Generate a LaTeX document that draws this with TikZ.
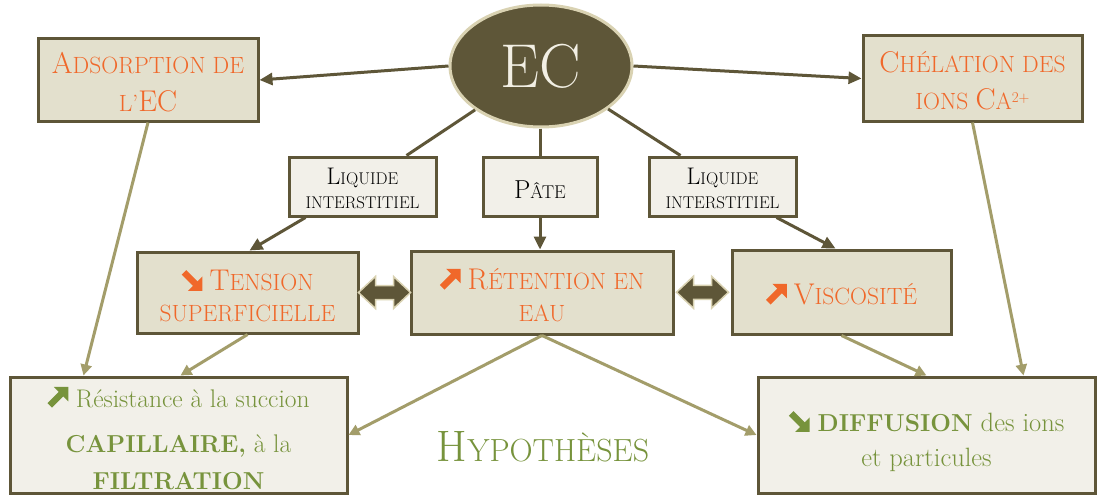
\documentclass[tikz,border=0pt]{standalone}
\usepackage{fontspec}
\usetikzlibrary{arrows.meta,calc,shapes.geometric}
\definecolor{dk}{HTML}{5E5638}
\definecolor{boxfill}{HTML}{E3E0CD}
\definecolor{lightfill}{HTML}{F2F0E9}
\definecolor{lt}{HTML}{A39D6A}
\definecolor{ecb}{HTML}{D9D2B2}
\definecolor{orng}{HTML}{F0682A}
\definecolor{grn}{HTML}{77933C}
\definecolor{ectext}{HTML}{F2EFE4}
\newsavebox\icoSEo \newsavebox\icoNEo \newsavebox\icoNEg \newsavebox\icoSEg
\newcommand\myPt[2]{\pgfpoint{#1pt}{#2pt}}
\newcommand\mkSE[1]{\begin{pgfpicture}\color{#1}%
  \pgfpathrectangle{\myPt{0}{0}}{\myPt{21}{21}}\pgfusepath{use as bounding box}%
  \pgfpathmoveto{\myPt{21}{0}}\pgfpathlineto{\myPt{21}{14.5}}\pgfpathlineto{\myPt{6.5}{0}}\pgfpathclose\pgfusepath{fill}%
  \pgfsetlinewidth{6.5pt}\pgfpathmoveto{\myPt{2.5}{18.5}}\pgfpathlineto{\myPt{15}{6}}\pgfusepath{stroke}\end{pgfpicture}}
\newcommand\mkNE[1]{\begin{pgfpicture}\color{#1}%
  \pgfpathrectangle{\myPt{0}{0}}{\myPt{21}{21}}\pgfusepath{use as bounding box}%
  \pgfpathmoveto{\myPt{21}{21}}\pgfpathlineto{\myPt{21}{6.5}}\pgfpathlineto{\myPt{6.5}{21}}\pgfpathclose\pgfusepath{fill}%
  \pgfsetlinewidth{6.5pt}\pgfpathmoveto{\myPt{2.5}{2.5}}\pgfpathlineto{\myPt{15}{15}}\pgfusepath{stroke}\end{pgfpicture}}
\newcommand\myCapO[1]{{\fontsize{30}{30}\selectfont #1}}
\newcommand\myCapL[1]{{\fontsize{24}{24}\selectfont #1}}
\newcommand\myCapP[1]{{\fontsize{26}{26}\selectfont #1}}
\newcommand\myCapH[1]{{\fontsize{44}{44}\selectfont #1}}
\newcommand\myBold[1]{{\fontsize{24.5}{24.5}\selectfont\bfseries #1}}
\newcommand\mySup[1]{\raisebox{7pt}{\fontsize{15}{15}\selectfont #1}}
\newcommand\myTall[1]{\rule{0pt}{#1}}
\begin{document}
\sbox\icoSEo{\mkSE{orng}}\sbox\icoNEo{\mkNE{orng}}\sbox\icoNEg{\mkNE{grn}}\sbox\icoSEg{\mkSE{grn}}%
\begin{tikzpicture}[x=1pt,y=-1pt,
 obox/.style={rectangle, draw=dk, line width=3pt, fill=boxfill, inner sep=0pt, align=center, text=orng},
 lbox/.style={rectangle, draw=dk, line width=3pt, fill=lightfill, inner sep=0pt, align=center},
 dcon/.style={draw=dk, line width=3pt},
 darr/.style={dcon, -{Triangle[length=13pt,width=12pt]}},
 larr/.style={draw=lt, line width=3pt, -{Triangle[length=11pt,width=11pt]}},
 dblarr/.style={fill=dk, draw=ecb, line width=1.5pt, line join=miter}]
\useasboundingbox (0,0) rectangle (1097,495);
\fill[white] (0,0) rectangle (1097,495);

% central ellipse
\node[ellipse, draw=ecb, line width=3pt, fill=dk, minimum width=182pt, minimum height=122pt,
  inner sep=0pt, text=ectext, font=\fontsize{62}{62}\selectfont] (ec) at (541,66) {EC};

% top boxes
\node[obox, minimum width=220pt, minimum height=82pt, font=\fontsize{23.5}{38}\selectfont] (ads) at (148,80)
  {\myTall{26pt}\myCapO{A}DSORPTION DE\\L’\myCapO{EC}};
\node[obox, minimum width=219pt, minimum height=85pt, font=\fontsize{23.5}{37}\selectfont] (che) at (972.5,78.5)
  {\myTall{26pt}\myCapO{C}HÉLATION DES\\IONS \myCapO{C}A\mySup{2+}};

% middle label boxes
\node[lbox, minimum width=147pt, minimum height=59pt, font=\fontsize{17}{24}\selectfont] (liqL) at (362.5,186.5)
  {\myTall{21pt}\myCapL{L}IQUIDE\\INTERSTITIEL};
\node[lbox, minimum width=114pt, minimum height=59pt, font=\fontsize{18.5}{24}\selectfont] (pate) at (540,186.5)
  {\myTall{23pt}\myCapP{P}ÂTE};
\node[lbox, minimum width=147pt, minimum height=59pt, font=\fontsize{17}{24}\selectfont] (liqR) at (722.5,186.5)
  {\myTall{21pt}\myCapL{L}IQUIDE\\INTERSTITIEL};

% effect boxes
\node[obox, minimum width=221pt, minimum height=81pt, font=\fontsize{23.5}{31}\selectfont] (ten) at (247.5,292.5)
  {\myTall{28pt}\usebox\icoSEo\ \myCapO{T}ENSION\\SUPERFICIELLE};
\node[obox, minimum width=262pt, minimum height=83pt, font=\fontsize{23.5}{32}\selectfont] (ret) at (542,292.5)
  {\myTall{27pt}\usebox\icoNEo\ \myCapO{R}ÉTENTION EN\\EAU};
\node[obox, minimum width=219pt, minimum height=84pt, font=\fontsize{23.5}{32}\selectfont] (vis) at (841.5,292)
  {\myTall{26pt}\usebox\icoNEo\ \myCapO{V}ISCOSITÉ};

% bottom boxes
\node[lbox, text=grn, minimum width=337pt, minimum height=116pt, font=\fontsize{25.5}{37}\selectfont] (res) at (178.5,435)
  {\myTall{28pt}\usebox\icoNEg\ Résistance à la succion\\[8pt]\myBold{CAPILLAIRE,} à la\\\myBold{FILTRATION}};
\node[lbox, text=grn, minimum width=337pt, minimum height=116pt, font=\fontsize{26.5}{35}\selectfont] (dif) at (926.5,435)
  {\myTall{34pt}\usebox\icoSEg\ \myBold{DIFFUSION} des ions\\et particules};

\node[text=grn, anchor=base, inner sep=0pt, font=\fontsize{32}{32}\selectfont] (hyp) at (543,461) {\myCapH{H}YPOTHÈSES};

% dark connectors
\draw[darr] (ec.west) -- (ads.east);
\draw[darr] (ec.east) -- (che.west);
\draw[dcon] (ec) -- ($(liqL.north)+(44,0)$);
\draw[darr] ($(liqL.south)+(-57,0)$) -- ($(ten.north)+(2,0)$);
\draw[dcon] (pate.north |- ec.south) -- (pate.north);
\draw[darr] (pate.south) -- (pate.south |- ret.north);
\draw[dcon] (ec) -- ($(liqR.north)+(-42,0)$);
\draw[darr] ($(liqR.south)+(54,0)$) -- ($(vis.north)+(-6,0)$);

% light connectors
\draw[larr] (ads.south) -- ($(res.north)+(-95,0)$);
\draw[larr] (ten.south) -- ($(res.north)+(2,0)$);
\draw[larr] (ret.south) -- (res.east);
\draw[larr] (ret.south) -- (dif.west);
\draw[larr] (vis.south) -- (dif.north);
\draw[larr] (che.south) -- ($(dif.north)+(97,0)$);

% double arrows
\path (ten.east) -- (ret.west) coordinate[midway] (m1);
\path (ret.east) -- (vis.west) coordinate[midway] (m2);
\foreach \m in {m1,m2}{
  \filldraw[dblarr] ($(\m)+(-26,0)$) -- ++(17,-16) -- ++(0,9) -- ++(18,0) -- ++(0,-9) -- ++(17,16)
    -- ++(-17,16) -- ++(0,-9) -- ++(-18,0) -- ++(0,9) -- cycle;
}
\end{tikzpicture}
\end{document}
